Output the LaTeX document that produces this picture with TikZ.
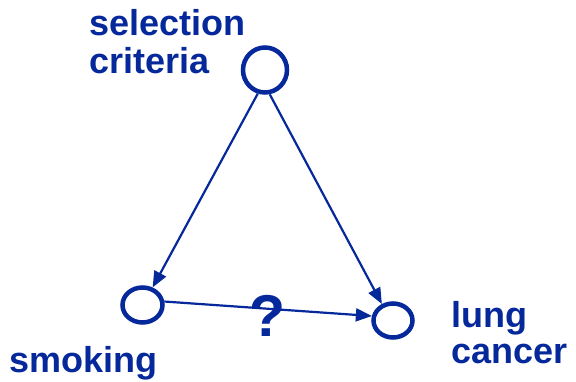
\documentclass[tikz,border=0pt]{standalone}
\usepackage{fontspec}
\setmainfont{Liberation Sans}
\usetikzlibrary{shapes.geometric,arrows.meta}
\definecolor{dagblue}{RGB}{5,40,155}
\begin{document}
\begin{tikzpicture}[x=1pt,y=-1pt,
  var/.style={draw=dagblue, line width=4.5pt, ellipse, inner sep=0pt},
  edge/.style={draw=dagblue, line width=2.2pt,
    -{Triangle[length=16pt,width=13pt]}},
  lbl/.style={text=dagblue, inner sep=0pt, anchor=base west,
    font=\fontsize{36}{38}\selectfont\bfseries}]
  \useasboundingbox (0,0) rectangle (576,382);

  % variables
  \node[var, minimum width=44pt, minimum height=45pt] (sel)  at (265,70)    {};
  \node[var, minimum width=40pt, minimum height=35pt] (smk)  at (142.5,305) {};
  \node[var, minimum width=39pt, minimum height=34pt] (lung) at (393,320.5) {};

  % labels
  \node[lbl] (selA) at (89,36)  {selection};
  \node[lbl] (selB) at (89,74)  {criteria};
  \node[lbl] (smkA) at (9,372)  {smoking};
  \node[lbl] (lunA) at (451,327) {lung};
  \node[lbl] (lunB) at (451,363) {cancer};

  % causal arrows
  \draw[edge] (sel.253) -- (smk.60);
  \draw[edge] (sel.281) -- (lung.124);
  \draw[edge] (smk.9)   -- (lung.168);

  % the questioned effect
  \node[text=dagblue, inner sep=0pt, anchor=base,
    font=\fontsize{59}{60}\selectfont\bfseries] (q) at (268,336) {?};
\end{tikzpicture}
\end{document}
